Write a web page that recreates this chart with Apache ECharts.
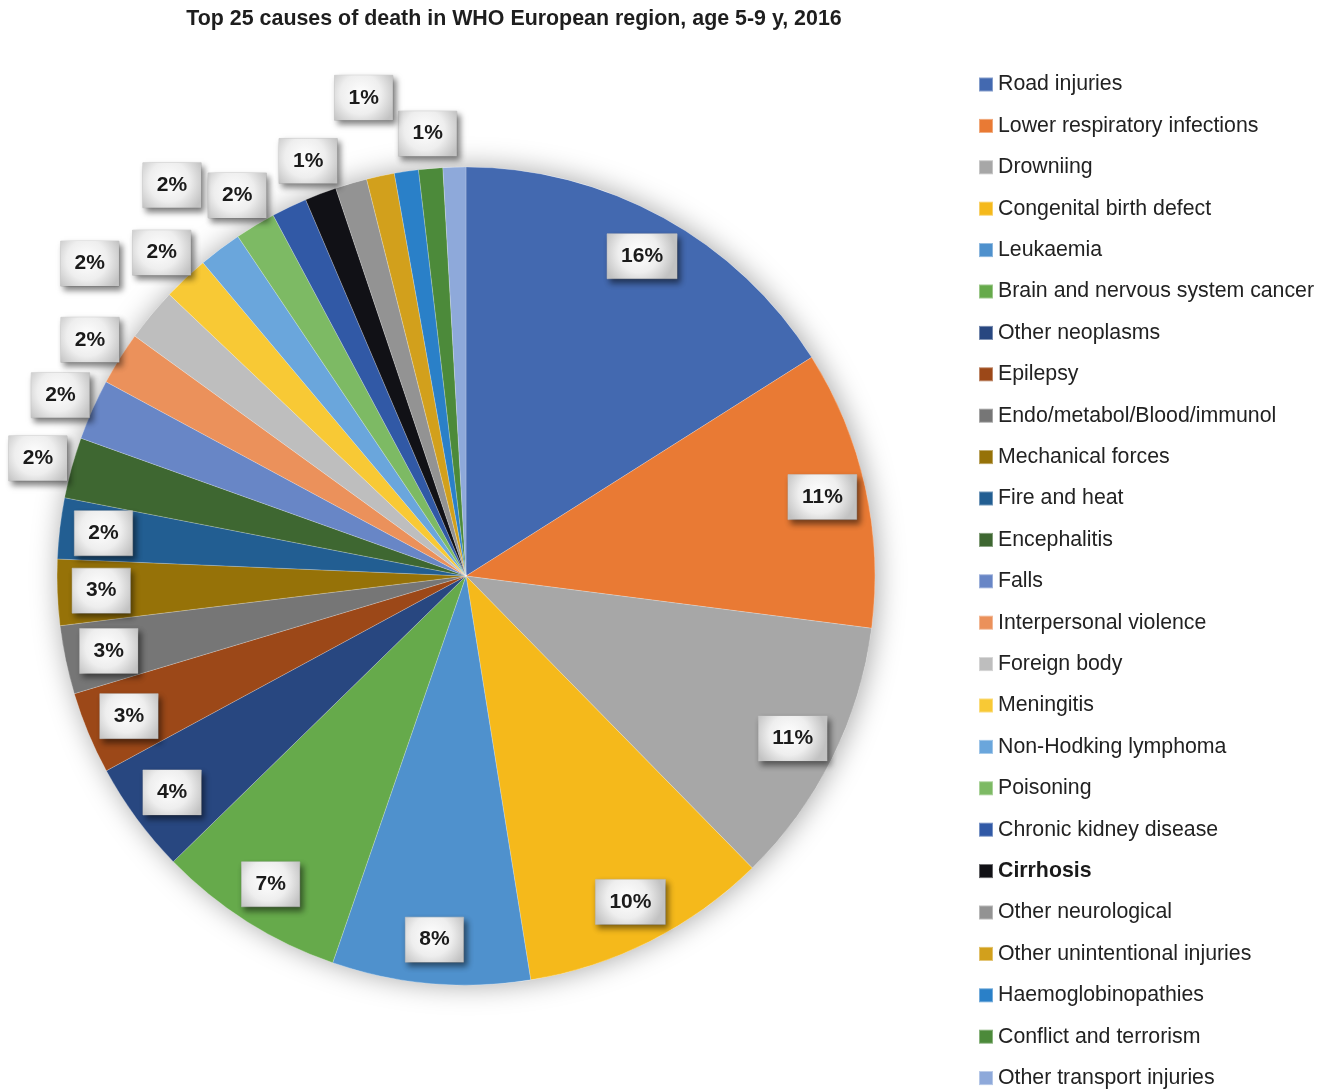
<!DOCTYPE html>
<html>
<head>
<meta charset="utf-8">
<title>Top 25 causes of death in WHO European region, age 5-9 y, 2016</title>
<script src="https://cdn.jsdelivr.net/npm/echarts@6/dist/echarts.min.js"></script>
<style>
  html, body { margin: 0; padding: 0; background: #ffffff; }
  #chart { width: 1328px; height: 1091px; }
</style>
</head>
<body>
<div id="chart"></div>
<script>
// Causes of death, in clockwise order from 12 o'clock
const causes = [
  'Road injuries', 'Lower respiratory infections', 'Drowniing', 'Congenital birth defect',
  'Leukaemia', 'Brain and nervous system cancer', 'Other neoplasms', 'Epilepsy',
  'Endo/metabol/Blood/immunol', 'Mechanical forces', 'Fire and heat', 'Encephalitis',
  'Falls', 'Interpersonal violence', 'Foreign body', 'Meningitis',
  'Non-Hodking lymphoma', 'Poisoning', 'Chronic kidney disease', 'Cirrhosis',
  'Other neurological', 'Other unintentional injuries', 'Haemoglobinopathies',
  'Conflict and terrorism', 'Other transport injuries'
];

// Share of deaths (%)
const shares = [
  16.0, 11.0, 10.6, 9.8,
  7.8, 7.4, 4.4, 3.25,
  2.7, 2.6, 2.4, 2.4,
  2.4, 2.1, 2.1, 1.8,
  1.7, 1.6, 1.4, 1.25,
  1.25, 1.1, 0.95,
  0.95, 0.9
];

const sliceColors = [
  '#4369b0', '#e97a34', '#a7a7a7', '#f5b91b',
  '#4f91cd', '#66aa4b', '#284780', '#9c4818',
  '#767676', '#967208', '#225e92', '#3e6731',
  '#6886c6', '#eb915b', '#bebebe', '#f8c935',
  '#6aa6dc', '#7dba64', '#3159a6', '#111116',
  '#939393', '#d2a01c', '#2a80c8', '#4c8a3a', '#8ea9da'
];

// Which slices carry a value tag, and on which ring it sits
const tagsInside = causes.slice(0, 11);
const tagsNearRing = ['Encephalitis', 'Falls', 'Interpersonal violence', 'Meningitis',
  'Poisoning', 'Cirrhosis', 'Conflict and terrorism'];
const tagsFarRing = ['Foreign body', 'Non-Hodking lymphoma', 'Other unintentional injuries'];

const FONT = '"Liberation Sans", Arial, Helvetica, sans-serif';
const CENTER = [466, 576];
const R = 409;

const tagStyle = {
  color: '#1b1b1b',
  fontFamily: FONT,
  fontSize: 21,
  fontWeight: 'bold',
  lineHeight: 22,
  padding: [12, 14, 11, 14],
  backgroundColor: new echarts.graphic.RadialGradient(0.45, 0.42, 0.8, [
    { offset: 0, color: '#ffffff' },
    { offset: 0.55, color: '#eeeeee' },
    { offset: 1, color: '#c2c2c2' }
  ]),
  borderColor: 'rgba(190,190,190,0.6)',
  borderWidth: 0.5,
  shadowColor: 'rgba(0,0,0,0.5)',
  shadowBlur: 6,
  shadowOffsetX: 3,
  shadowOffsetY: 4,
  formatter: p => Math.round(p.percent) + '%'
};

// An invisible ring whose inside-label anchor is at radius `mid`
function tagRing(mid, names) {
  return {
    type: 'pie',
    center: CENTER,
    radius: [mid - 8, mid + 8],
    startAngle: 90,
    clockwise: true,
    silent: true,
    z: 10,
    avoidLabelOverlap: false,
    emphasis: { disabled: true },
    itemStyle: { color: 'rgba(0,0,0,0)', borderWidth: 0 },
    labelLine: { show: false },
    label: Object.assign({ show: true, position: 'inside' }, tagStyle),
    data: causes.map((c, i) => ({
      name: c,
      value: shares[i],
      itemStyle: { color: 'rgba(0,0,0,0)' },
      label: { show: names.includes(c) }
    }))
  };
}

const chart = echarts.init(document.getElementById('chart'), null, { renderer: 'canvas' });

chart.setOption({
  backgroundColor: '#ffffff',
  animation: false,
  title: {
    text: 'Top 25 causes of death in WHO European region, age 5-9 y, 2016',
    left: 514,
    top: 3,
    padding: 0,
    textAlign: 'center',
    textStyle: {
      fontFamily: FONT,
      fontSize: 21.4,
      lineHeight: 32,
      fontWeight: 'bold',
      color: '#1e1e1e'
    }
  },
  legend: {
    data: causes,
    orient: 'vertical',
    left: 978,
    top: 74,
    bottom: -40,
    padding: 0,
    itemWidth: 14,
    itemHeight: 14,
    itemGap: 20.4,
    icon: 'rect',
    selectedMode: false,
    formatter: name => name === 'Cirrhosis' ? '{b|' + name + '}' : name,
    textStyle: {
      fontFamily: FONT,
      fontSize: 21.3,
      lineHeight: 20,
      color: '#222222',
      rich: {
        b: { fontFamily: FONT, fontSize: 21.3, lineHeight: 20, fontWeight: 'bold', color: '#1a1a1a' }
      }
    }
  },
  series: [
    // soft drop shadow behind the disc
    {
      type: 'pie',
      center: CENTER,
      radius: R,
      silent: true,
      z: 1,
      label: { show: false },
      labelLine: { show: false },
      itemStyle: {
        color: '#ffffff',
        shadowColor: 'rgba(0,0,0,0.35)',
        shadowBlur: 28,
        shadowOffsetX: 2,
        shadowOffsetY: 0
      },
      data: [{ name: 'disc', value: 1 }]
    },
    {
      type: 'pie',
      center: CENTER,
      radius: R,
      startAngle: 90,
      clockwise: true,
      z: 2,
      avoidLabelOverlap: false,
      label: { show: false },
      labelLine: { show: false },
      emphasis: { disabled: true },
      itemStyle: {
        borderColor: 'rgba(255,255,255,0.35)',
        borderWidth: 0.6
      },
      data: causes.map((c, i) => ({
        name: c,
        value: shares[i],
        itemStyle: { color: sliceColors[i] }
      }))
    },
    tagRing(362, tagsInside),
    tagRing(441, tagsNearRing),
    tagRing(486, tagsFarRing)
  ]
});
</script>
</body>
</html>
